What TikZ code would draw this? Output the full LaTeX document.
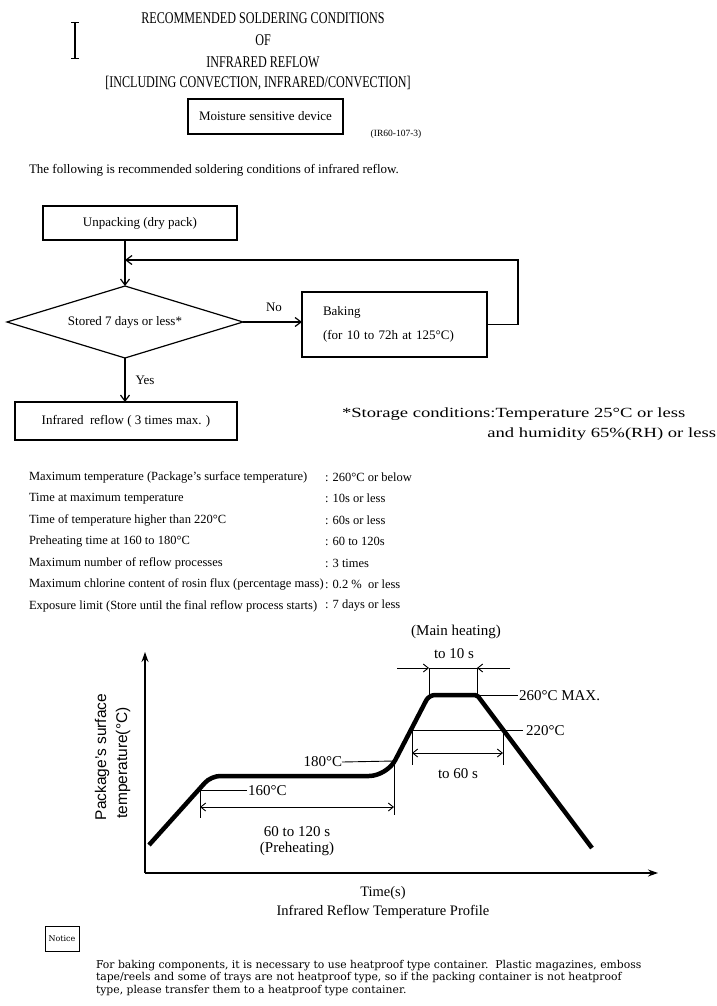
\documentclass[tikz,border=0pt]{standalone}
\usepackage{fontspec}
\usepackage{graphicx}
\setmainfont{Liberation Serif}
\setsansfont{Liberation Sans}
\newfontfamily\noticefont{DejaVu Serif}
\usetikzlibrary{arrows.meta,shapes.geometric}
\begin{document}
\begin{tikzpicture}[x=1pt,y=-1pt,
  every node/.style={inner sep=0pt, outer sep=0pt},
  txt/.style={font=\fontsize{13}{15}\selectfont},
  tab/.style={font=\fontsize{12.5}{15}\selectfont, anchor=west},
  glab/.style={font=\fontsize{15}{17}\selectfont},
  ttl/.style={font=\fontsize{12.1}{14}\selectfont},
  wide/.style={font=\fontsize{14}{16}\selectfont},
  box/.style={draw, line width=1.2pt, font=\fontsize{13}{15}\selectfont},
  flow/.style={line width=1.2pt, -{Straight Barb[length=6pt,width=9pt]}},
  axis/.style={line width=1.4pt, -{Stealth[length=10pt,width=7pt]}},
  thinline/.style={line width=0.9pt},
  dim/.style={line width=0.9pt, {Straight Barb[length=5pt,width=8pt]}-{Straight Barb[length=5pt,width=8pt]}},
  rarrow/.style={line width=0.9pt, -{Straight Barb[length=5pt,width=8pt]}},
  profile/.style={line width=4.5pt}
]
\useasboundingbox (0,0) rectangle (717,1006);

% cursor mark
\draw[line width=1.2pt] (75,23) -- (75,59);
\draw[line width=1pt] (71,23) -- (79,23);
\draw[line width=1pt] (71,59) -- (79,59);

% title
\node[ttl] (t1) at (263,18.5) {\scalebox{1}[1.35]{RECOMMENDED SOLDERING CONDITIONS}};
\node[ttl] (t2) at (263,40) {\scalebox{1}[1.35]{OF}};
\node[ttl] (t3) at (263,62) {\scalebox{1}[1.35]{INFRARED REFLOW}};
\node[ttl] (t4) at (258,83) {\scalebox{1}[1.35]{[INCLUDING CONVECTION, INFRARED/CONVECTION]}};

\node[box, minimum width=155pt, minimum height=35pt] (msd) at (265.5,116.5) {Moisture sensitive device};
\node[font=\fontsize{9.5}{11}\selectfont] (code) at (396,134) {(IR60-107-3)};
\node[txt, anchor=west] (intro) at (29,170) {The following is recommended soldering conditions of infrared reflow.};

% flowchart
\node[box, minimum width=194pt, minimum height=34pt] (unpack) at (140,223) {Unpacking (dry pack)};
\node[draw, diamond, line width=1.2pt, aspect=3.28, minimum width=236pt, minimum height=72pt, txt] (dia) at (125,322) {Stored 7 days or less*};
\node[box, minimum width=185pt, minimum height=65pt, align=left, text width=143pt, font=\fontsize{13}{24}\selectfont] (bake) at (394.5,324.5) {Baking\\(for 10 to 72h at 125°C)};
\node[box, minimum width=222pt, minimum height=38pt] (ir) at (126,421) {Infrared\ \ reflow ( 3 times max. )};
\node[txt] (no) at (274,307) {No};
\node[txt] (yes) at (145,380) {Yes};
\coordinate (fbr) at (518,260);
\coordinate (fbl) at (125,260);

\draw[flow] (dia.north |- unpack.south) -- (dia.north);
\draw[flow] (dia.east) -- (dia.east -| bake.west);
\draw[flow] (dia.south) -- (dia.south |- ir.north);
\draw[flow] (bake.east) -| (fbr) -- (fbl);

\node[wide, anchor=west] (st1) at (342,414) {\scalebox{1.33}[1]{*Storage conditions:Temperature 25°C or less}};
\node[wide, anchor=east] (st2) at (716,434) {\scalebox{1.33}[1]{and humidity 65\%(RH) or less}};

% conditions table
\node[tab] (r1) at (29,477) {Maximum temperature (Package's surface temperature)};
\node[tab] (r2) at (29,498.5) {Time at maximum temperature};
\node[tab] (r3) at (29,520) {Time of temperature higher than 220°C};
\node[tab] (r4) at (29,541.5) {Preheating time at 160 to 180°C};
\node[tab] (r5) at (29,563) {Maximum number of reflow processes};
\node[tab] (r6) at (29,584.5) {Maximum chlorine content of rosin flux (percentage mass)};
\node[tab] (r7) at (29,606) {Exposure limit (Store until the final reflow process starts)};
\node[tab] (v1) at (325,477) {: 260°C or below};
\node[tab] (v2) at (325,498.5) {: 10s or less};
\node[tab] (v3) at (325,520) {: 60s or less};
\node[tab] (v4) at (325,541.5) {: 60 to 120s};
\node[tab] (v5) at (325,563) {: 3 times};
\node[tab] (v6) at (325,584.5) {: 0.2 \%\ \ or less};
\node[tab] (v7) at (325,606) {: 7 days or less};

% graph axes
\coordinate (org) at (145,873);
\coordinate (ytip) at (145,652);
\coordinate (xtip) at (658,873);
\draw[axis] (org) -- (ytip);
\draw[axis] (org) -- (xtip);
\node[rotate=90, font=\sffamily\fontsize{15.5}{17}\selectfont] (ylab1) at (102,757) {Package's surface};
\node[rotate=90, font=\sffamily\fontsize{15.5}{17}\selectfont] (ylab2) at (123,763) {temperature(°C)};

% profile
\draw[profile] (149,845) [rounded corners=9pt] -- (211,776) [rounded corners=18pt] -- (387,776) [rounded corners=6pt] -- (429,695) [rounded corners=2pt] -- (477,695) -- (592,848);

% preheating annotations
\draw[thinline] (199,790) -- (247,790);
\node[glab, anchor=west] (l160) at (248,791) {160°C};
\node[glab, anchor=east] (l180) at (342,762) {180°C};
\draw[thinline] (l180.east) -- (394,761);
\draw[thinline] (200,787) -- (200,818);
\draw[thinline] (394,761) -- (394,815);
\draw[dim] (200,807) -- (394,807);
\node[glab] (pre1) at (297,832) {60 to 120 s};
\node[glab] (pre2) at (297,849) {(Preheating)};

% 220 annotations
\draw[thinline] (411,730) -- (523,730);
\node[glab, anchor=west] (l220) at (526,731) {220°C};
\draw[thinline] (412,730) -- (412,765);
\draw[thinline] (503,730) -- (503,765);
\draw[dim] (412,753) -- (503,753);
\node[glab] (t60) at (458,774) {to 60 s};

% peak annotations
\draw[thinline] (477,695) -- (518,695);
\node[glab, anchor=west] (l260) at (519,696) {260°C MAX.};
\draw[thinline] (429,668) -- (429,695);
\draw[thinline] (477,668) -- (477,695);
\draw[thinline] (429,668) -- (477,668);
\draw[rarrow] (397,668) -- (429,668);
\draw[rarrow] (510,668) -- (477,668);
\node[glab] (t10) at (454,654) {to 10 s};
\node[glab] (mh) at (456,632) {(Main heating)};

\node[font=\fontsize{14.5}{16}\selectfont] (xlab) at (383,893) {Time(s)};
\node[font=\fontsize{14.5}{16}\selectfont] (cap) at (383,912) {Infrared Reflow Temperature Profile};

% notice
\node[draw, line width=1pt, minimum width=34pt, minimum height=25pt, font=\noticefont\fontsize{8}{9}\selectfont] (notice) at (62,938.5) {Notice};
\node[anchor=north west, align=left, font=\noticefont\fontsize{10.8}{12.5}\selectfont] (ntext) at (96,960) {For baking components, it is necessary to use heatproof type container.\ \ Plastic magazines, emboss\\tape/reels and some of trays are not heatproof type, so if the packing container is not heatproof\\type, please transfer them to a heatproof type container.};
\end{tikzpicture}
\end{document}
